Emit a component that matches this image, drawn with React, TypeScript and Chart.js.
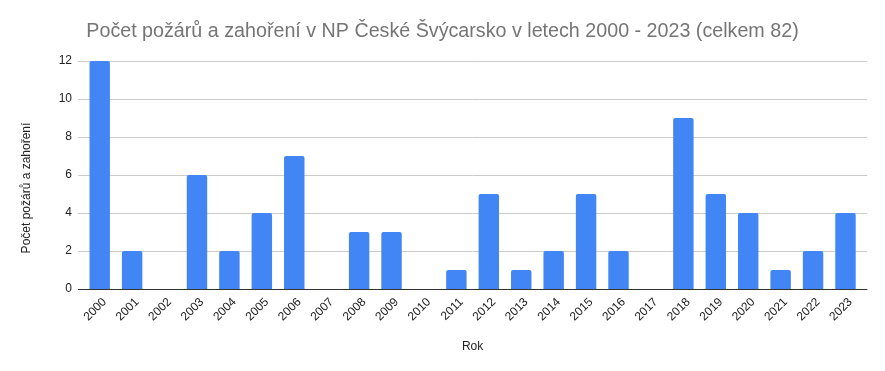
import React, { useEffect, useRef } from "react";
import { Chart, registerables } from "chart.js";

Chart.register(...registerables);

const years = ["2000","2001","2002","2003","2004","2005","2006","2007","2008","2009","2010","2011","2012","2013","2014","2015","2016","2017","2018","2019","2020","2021","2022","2023"];
const fires = [12,2,0,6,2,4,7,0,3,3,0,1,5,1,2,5,2,0,9,5,4,1,2,4];
const yTicks = [0,2,4,6,8,10,12];
const titleText = "Počet požárů a zahoření v NP České Švýcarsko v letech 2000 - 2023 (celkem 82)";
const yTitle = "Počet požárů a zahoření";
const xTitle = "Rok";

const FONT = "'Liberation Sans', Arial, sans-serif";
const GRID_EXT = 5.5;

const gridPlugin = {
  id: "extGrid",
  beforeDatasetsDraw(chart: any) {
    const { ctx, chartArea, scales } = chart;
    const y = scales.y;
    ctx.save();
    yTicks.forEach((v) => {
      const py = Math.round(y.getPixelForValue(v)) + 0.5;
      ctx.beginPath();
      ctx.strokeStyle = v === 0 ? "#333333" : "#cccccc";
      ctx.lineWidth = 1;
      ctx.moveTo(chartArea.left - GRID_EXT, py);
      ctx.lineTo(chartArea.right + GRID_EXT, py);
      ctx.stroke();
    });
    ctx.restore();
  },
  afterDatasetsDraw(chart: any) {
    const { ctx, chartArea, scales } = chart;
    const py = Math.round(scales.y.getPixelForValue(0)) + 0.5;
    ctx.save();
    ctx.beginPath();
    ctx.strokeStyle = "#333333";
    ctx.lineWidth = 1;
    ctx.moveTo(chartArea.left - GRID_EXT, py);
    ctx.lineTo(chartArea.right + GRID_EXT, py);
    ctx.stroke();
    ctx.restore();
  },
  afterDraw(chart: any) {
    const { ctx } = chart;
    ctx.save();
    ctx.translate(27, 188);
    ctx.rotate(-Math.PI / 2);
    ctx.fillStyle = "#222222";
    ctx.font = `12px ${FONT}`;
    ctx.textAlign = "center";
    ctx.textBaseline = "middle";
    ctx.fillText(yTitle, 0, 0);
    ctx.restore();
  },
};

export default function App() {
  const ref = useRef<HTMLCanvasElement | null>(null);
  useEffect(() => {
    document.body.style.margin = "0";
    const ctx = ref.current!.getContext("2d")!;
    const chart = new Chart(ctx, {
      type: "bar",
      data: {
        labels: years,
        datasets: [{
          data: fires,
          backgroundColor: "#4285F4",
          borderRadius: 2,
          borderSkipped: "bottom",
          barPercentage: 0.63,
          categoryPercentage: 1,
        }],
      },
      plugins: [gridPlugin],
      options: {
        animation: false,
        responsive: false,
        maintainAspectRatio: false,
        layout: { padding: { left: 0, right: 0, top: 0, bottom: 17 } },
        plugins: {
          legend: { display: false },
          tooltip: { enabled: false },
          title: {
            display: true,
            text: titleText,
            color: "#757575",
            font: { family: FONT, size: 19.7, weight: "normal" },
            padding: { top: 20, bottom: 17.4 },
          },
        },
        scales: {
          x: {
            afterFit: (scale: any) => { scale.height = 65; },
            grid: { display: false, drawTicks: false },
            border: { display: false },
            ticks: {
              color: "#222222",
              font: { family: FONT, size: 12 },
              maxRotation: 45,
              minRotation: 45,
              autoSkip: false,
              padding: 6,
              labelOffset: 5,
            },
            title: {
              display: true,
              text: xTitle,
              color: "#222222",
              font: { family: FONT, size: 12 },
              padding: { top: 0, bottom: 0 },
            },
          },
          y: {
            min: 0,
            max: 12,
            afterFit: (scale: any) => { scale.width = 83.5; },
            afterBuildTicks: (scale: any) => {
              scale.ticks = yTicks.map((v) => ({ value: v }));
            },
            grid: { display: false, drawTicks: false },
            border: { display: false },
            ticks: {
              color: "#222222",
              font: { family: FONT, size: 12 },
              padding: 11.5,
            },
          },
          yRight: {
            type: "linear",
            position: "right",
            display: true,
            afterFit: (scale: any) => { scale.width = 23.3; },
            grid: { display: false, drawTicks: false },
            border: { display: false },
            ticks: { display: false },
          },
        },
      },
    });
    return () => chart.destroy();
  }, []);
  return (
    <div style={{ width: 885, height: 371 }}>
      <canvas ref={ref} width={885} height={371} style={{ display: "block" }} />
    </div>
  );
}
